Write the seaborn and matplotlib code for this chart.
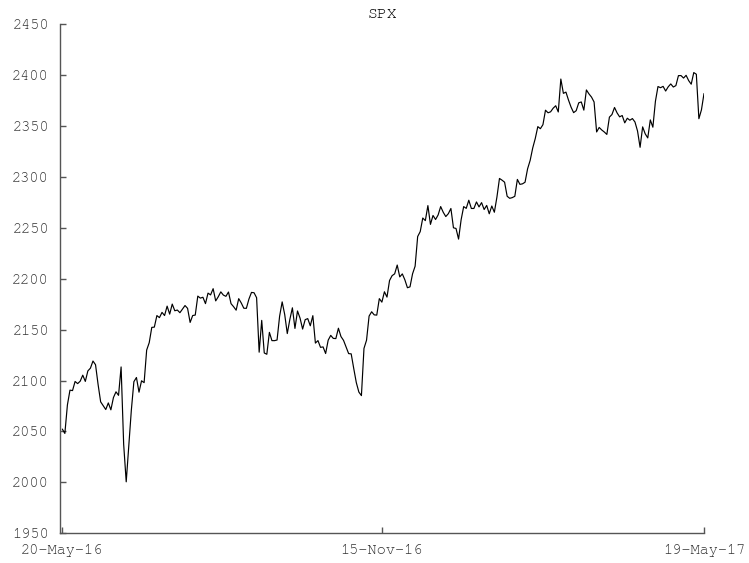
import matplotlib
matplotlib.use("Agg")
import matplotlib.pyplot as plt
import seaborn as sns
import pandas as pd
from matplotlib import font_manager

# ================= DATOS =================
TITULO = "SPX"
ETIQUETAS_X = ["20-May-16", "15-Nov-16", "19-May-17"]
Y_TICKS = [1950, 2000, 2050, 2100, 2150, 2200, 2250, 2300, 2350, 2400, 2450]

# cierres diarios, 20-May-16 .. 19-May-17
cierres = [
    2052.32, 2048.04, 2076.06, 2090.54, 2090.10, 2099.06, 2096.95, 2099.33, 2105.26, 2099.13,
    2109.41, 2112.13, 2119.12, 2115.48, 2096.07, 2079.06, 2075.32, 2071.50, 2077.99, 2071.22,
    2083.25, 2088.90, 2085.45, 2113.32, 2037.41, 2000.54, 2036.09, 2070.77, 2098.86, 2102.95,
    2088.55, 2099.73, 2097.90, 2129.90, 2137.16, 2152.14, 2152.43, 2163.75, 2161.74, 2166.89,
    2163.78, 2173.02, 2165.17, 2175.03, 2168.48, 2169.18, 2166.58, 2170.06, 2173.60, 2170.84,
    2157.03, 2163.79, 2164.25, 2182.87, 2180.89, 2181.74, 2175.49, 2185.79, 2184.05, 2190.15,
    2178.15, 2182.22, 2187.02, 2183.87, 2182.64, 2186.90, 2175.44, 2172.47, 2169.04, 2180.38,
    2176.12, 2170.95, 2170.86, 2179.98, 2186.48, 2186.16, 2181.30, 2127.81, 2159.04, 2127.02,
    2125.77, 2147.26, 2139.16, 2139.12, 2139.76, 2163.12, 2177.18, 2164.69, 2146.10, 2159.93,
    2171.37, 2151.13, 2168.27, 2161.20, 2150.49, 2159.73, 2160.77, 2153.74, 2163.66, 2136.73,
    2139.18, 2132.55, 2132.98, 2126.50, 2139.60, 2144.29, 2141.34, 2141.16, 2151.33, 2143.16,
    2139.43, 2133.04, 2126.41, 2126.15, 2111.72, 2097.94, 2088.66, 2085.18, 2131.52, 2139.56,
    2163.26, 2167.48, 2164.45, 2164.20, 2180.39, 2176.94, 2187.12, 2181.90, 2198.18, 2202.94,
    2204.72, 2213.35, 2201.72, 2204.66, 2198.81, 2191.08, 2191.95, 2204.71, 2212.23, 2241.35,
    2246.19, 2259.53, 2256.96, 2271.72, 2253.28, 2262.03, 2258.07, 2262.53, 2270.76, 2265.18,
    2260.96, 2263.79, 2268.88, 2249.92, 2249.26, 2238.83, 2257.83, 2270.75, 2269.00, 2276.98,
    2268.90, 2268.90, 2275.32, 2270.44, 2274.64, 2267.89, 2271.89, 2263.69, 2271.31, 2265.20,
    2280.07, 2298.37, 2296.68, 2294.69, 2280.90, 2278.87, 2279.55, 2280.85, 2297.42, 2292.56,
    2293.08, 2294.67, 2307.87, 2316.10, 2328.25, 2337.58, 2349.25, 2347.22, 2351.16, 2365.38,
    2362.82, 2363.81, 2367.34, 2369.75, 2363.64, 2395.96, 2381.92, 2383.12, 2375.31, 2368.39,
    2362.98, 2364.87, 2372.60, 2373.47, 2365.45, 2385.26, 2381.38, 2378.25, 2373.47, 2344.02,
    2348.45, 2345.96, 2343.98, 2341.59, 2358.57, 2361.13, 2368.06, 2362.72, 2358.84, 2360.16,
    2352.95, 2357.49, 2355.54, 2357.16, 2353.78, 2344.93, 2328.95, 2349.01, 2342.19, 2338.17,
    2355.84, 2348.69, 2374.15, 2388.61, 2387.45, 2388.77, 2384.20, 2388.33, 2391.17, 2388.13,
    2389.52, 2399.29, 2399.38, 2396.92, 2399.63, 2394.44, 2390.90, 2402.32, 2400.67, 2357.03,
    2365.72, 2381.73,
]

df = pd.DataFrame({"dia": range(len(cierres)), "cierre": cierres})

sns.set_style("ticks")
# Courier si existe; si no, Liberation Mono
disponibles = {f.name for f in font_manager.fontManager.ttflist}
familias = [f for f in ["Courier New", "Courier", "Nimbus Mono PS", "FreeMono",
                        "Liberation Mono", "DejaVu Sans Mono"] if f in disponibles]
plt.rcParams["font.family"] = familias
GRIS = "#333333"

fig = plt.figure(figsize=(7.49, 5.63), dpi=100)
ax = fig.add_axes([60 / 749, 1 - 533.3 / 563, 644 / 749, 509.3 / 563])

sns.lineplot(data=df, x="dia", y="cierre", color="black", linewidth=0.85, ax=ax)

n = len(cierres)
ax.set_xticks([0, (n - 1) // 2, n - 1])
ax.set_xticklabels(ETIQUETAS_X)
ax.set_yticks(Y_TICKS)
ax.set_xlim(-0.9, n - 1)
ax.set_ylim(1950, 2450)
ax.set_xlabel("")
ax.set_ylabel("")
ax.set_title(TITULO, fontsize=12, pad=4, color="black")

sns.despine(ax=ax)
for lado in ["left", "bottom"]:
    ax.spines[lado].set_color("#555555")
    ax.spines[lado].set_linewidth(1.0)
ax.tick_params(direction="in", length=4.5, width=1, color="#555555",
               labelsize=11, labelcolor=GRIS, pad=8)

plt.savefig("out.png", dpi=100)
